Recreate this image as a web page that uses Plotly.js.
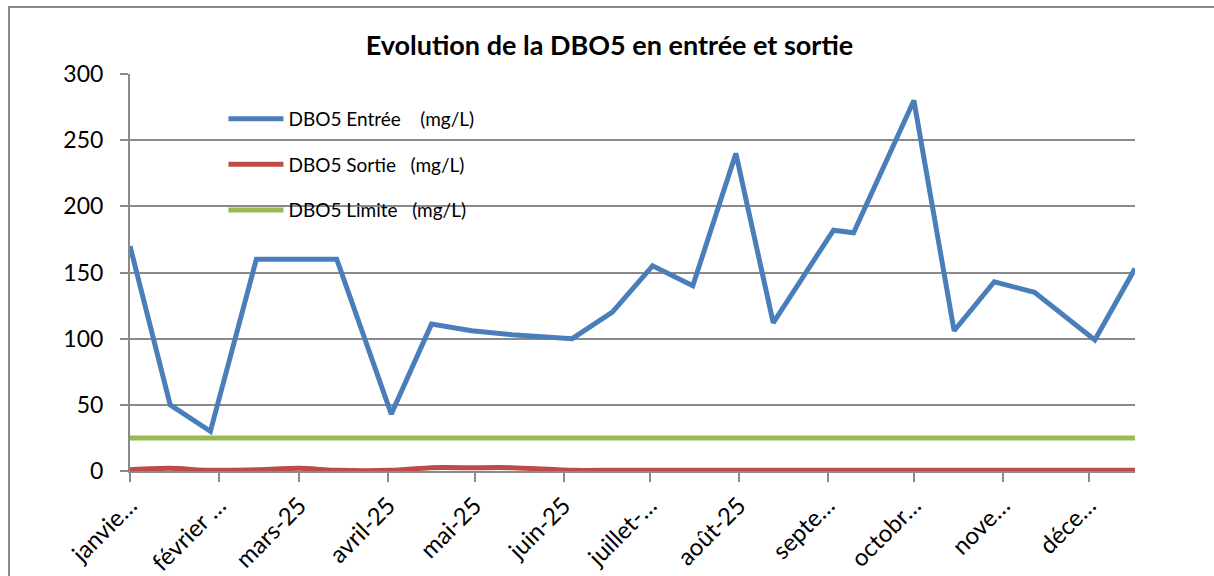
<!DOCTYPE html>
<html>
<head>
<meta charset="utf-8">
<script src="https://cdn.plot.ly/plotly-3.0.1.min.js"></script>
<style>
  html, body { margin: 0; padding: 0; background: #fff; }
  #wrap { position: relative; width: 1214px; height: 576px; overflow: hidden; }
  #chart { position: absolute; left: 0; top: 0; width: 1214px; height: 576px; }
  #frame { position: absolute; left: 8px; top: 6px; width: 1220px; height: 600px;
           border-left: 2px solid #8a8a8a; border-top: 2px solid #8a8a8a; pointer-events: none; }
</style>
</head>
<body>
<div id="wrap">
  <div id="chart"></div>
  <div id="frame"></div>
</div>
<script>
const dates = ["2025-01-01","2025-01-15","2025-01-29","2025-02-14","2025-03-01","2025-03-14",
               "2025-04-02","2025-04-16","2025-04-30","2025-05-14","2025-06-04","2025-06-18",
               "2025-07-02","2025-07-16","2025-07-31","2025-08-13","2025-09-03","2025-09-10",
               "2025-10-01","2025-10-15","2025-10-29","2025-11-12","2025-12-03","2025-12-17"];
const dboEntree = [170, 50, 30, 160, 160, 160, 43, 111, 106, 103, 100, 120,
                   155, 140, 240, 112, 182, 180, 280, 106, 143, 135, 99, 153];
const dboSortie = [1, 2, 0.5, 1, 2, 0.5, 0.5, 2.5, 2.5, 2.5, 0.5, 0.5,
                   0.5, 0.5, 0.5, 0.5, 0.5, 0.5, 0.5, 0.5, 0.5, 0.5, 0.5, 0.5];
const dboLimite = [25, 25, 25, 25, 25, 25, 25, 25, 25, 25, 25, 25,
                   25, 25, 25, 25, 25, 25, 25, 25, 25, 25, 25, 25];
const tickDates = ["2025-01-01","2025-02-01","2025-03-01","2025-04-01","2025-05-01","2025-06-01",
                   "2025-07-01","2025-08-01","2025-09-01","2025-10-01","2025-11-01","2025-12-01"];
const tickLabels = ["janvie…","février …","mars-25","avril-25","mai-25","juin-25",
                    "juillet-…","août-25","septe…","octobr…","nove…","déce…"];
const seriesNames = ["DBO5 Entrée\u00a0\u00a0\u00a0\u00a0(mg/L)",
                     "DBO5 Sortie\u00a0\u00a0\u00a0(mg/L)",
                     "DBO5 Limite\u00a0\u00a0\u00a0(mg/L)"];
const yTicks = [0, 50, 100, 150, 200, 250, 300];

const FONT = "Lato, Carlito, Calibri, 'Open Sans', sans-serif";

const traces = [
  {x: dates, y: dboEntree, name: seriesNames[0], legendgroup: "a", mode: "lines",
   line: {color: "#4a7ebb", width: 5}},
  {x: dates, y: dboSortie, name: seriesNames[1], legendgroup: "b", mode: "lines",
   line: {color: "#be4b48", width: 5, shape: "spline", smoothing: 0.6}},
  {x: dates, y: dboLimite, name: seriesNames[2], legendgroup: "c", mode: "lines",
   line: {color: "#98b954", width: 5}}
];

const layout = {
  width: 1214, height: 576,
  paper_bgcolor: "#ffffff", plot_bgcolor: "#ffffff",
  margin: {l: 130, r: 79, t: 74, b: 105},
  font: {family: FONT, color: "#000000"},
  title: {text: "<b>Evolution de la DBO5 en entrée et sortie</b>",
          font: {family: FONT, size: 27, color: "#000"},
          x: 0.502, xanchor: "center", xref: "container", y: 0.921, yanchor: "middle"},
  showlegend: true,
  legend: {x: 0.093, y: 0.935, xanchor: "left", yanchor: "top",
           bgcolor: "rgba(0,0,0,0)", font: {family: FONT, size: 19, color: "#000"},
           traceorder: "grouped", tracegroupgap: 18, itemwidth: 55},
  xaxis: {type: "date", range: ["2025-01-01", "2025-12-17"],
          tickmode: "array", tickvals: tickDates, ticktext: tickLabels,
          tickangle: -45, tickfont: {family: FONT, size: 24, color: "#000"},
          ticks: "outside", ticklen: 9, tickwidth: 2, tickcolor: "#8a8a8a",
          showgrid: false, zeroline: false, showline: true, linecolor: "#8a8a8a", linewidth: 2},
  yaxis: {range: [0, 300], tickmode: "array", tickvals: yTicks,
          tickfont: {family: FONT, size: 23, color: "#000"},
          ticks: "outside", ticklen: 8, tickwidth: 2, tickcolor: "#8a8a8a",
          ticklabelstandoff: 12,
          showgrid: true, gridcolor: "#8a8a8a", gridwidth: 2,
          zeroline: false, showline: true, linecolor: "#8a8a8a", linewidth: 2}
};

Plotly.newPlot("chart", traces, layout, {displayModeBar: false, staticPlot: true});
</script>
</body>
</html>
